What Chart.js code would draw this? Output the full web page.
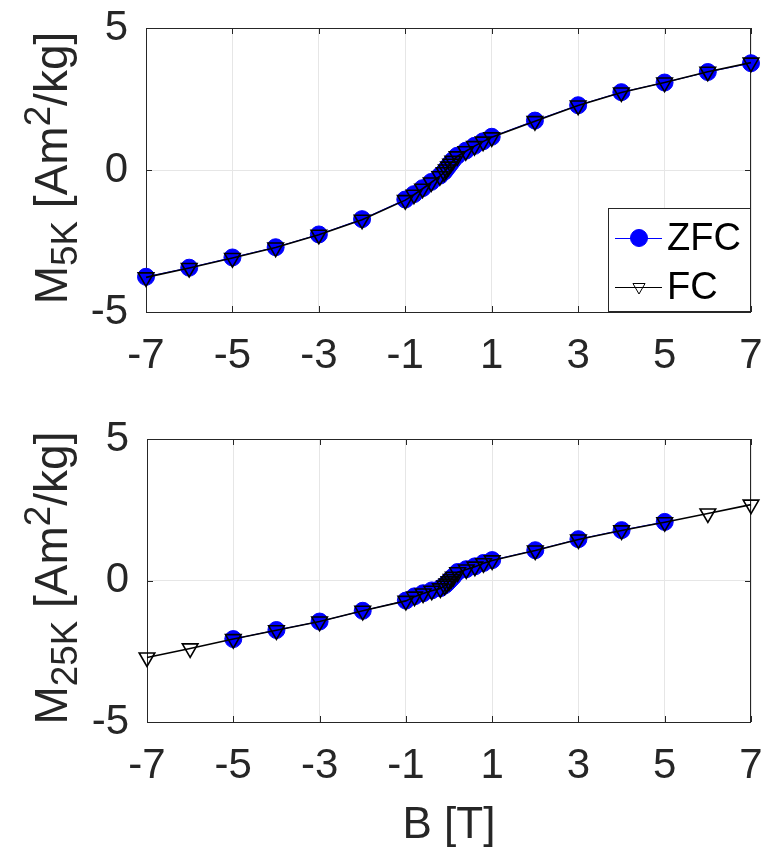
<!DOCTYPE html>
<html>
<head>
<meta charset="utf-8">
<script src="https://cdn.jsdelivr.net/npm/chart.js@4.4.0/dist/chart.umd.min.js"></script>
<style>
  body { margin: 0; background: #fff; width: 765px; height: 852px; position: relative; overflow: hidden;
         font-family: "Liberation Sans", Arial, sans-serif; }
  .panel { position: absolute; left: 0; width: 765px; }
  .ylab { position: absolute; white-space: nowrap; font-size: 46px; color: #262626; line-height: 1;
          transform: translate(-50%, -50%) rotate(-90deg); }
  .ylab sub, .ylab sup { font-size: 0.8em; }
</style>
</head>
<body>
<div class="panel" style="top:0;height:426px"><canvas id="chart5K"></canvas></div>
<div class="panel" style="top:400px;height:452px"><canvas id="chart25K"></canvas></div>
<div class="ylab" style="left:52px;top:168px">M<sub>5K</sub> [Am<sup>2</sup>/kg]</div>
<div class="ylab" style="left:52px;top:578px">M<sub>25K</sub> [Am<sup>2</sup>/kg]</div>

<script>
// field values [T]
const fieldB = [-7, -6, -5, -4, -3, -2, -1, -0.8, -0.6, -0.4, -0.2, -0.1, -0.05, 0,
  0.05, 0.1, 0.2, 0.4, 0.6, 0.8, 1, 2, 3, 4, 5, 6, 7];
const fieldB25Zfc = [-5, -4, -3, -2, -1, -0.8, -0.6, -0.4, -0.2, -0.1, -0.05, 0,
  0.05, 0.1, 0.2, 0.4, 0.6, 0.8, 1, 2, 3, 4, 5];

// magnetisation at 5 K [Am^2/kg]
const zfc5K = [-3.76, -3.44, -3.08, -2.72, -2.27, -1.73, -1.04, -0.85, -0.64, -0.42, -0.2, -0.06, 0.04, 0.14,
  0.24, 0.34, 0.5, 0.68, 0.85, 1.01, 1.17, 1.74, 2.28, 2.74, 3.08, 3.45, 3.76];
const fc5K = [-3.78, -3.45, -3.1, -2.73, -2.28, -1.75, -1.06, -0.87, -0.66, -0.44, -0.22, -0.08, 0.02, 0.12,
  0.22, 0.32, 0.48, 0.66, 0.84, 1.0, 1.15, 1.72, 2.27, 2.73, 3.08, 3.46, 3.78];

// magnetisation at 25 K [Am^2/kg]
const zfc25K = [-2.07, -1.75, -1.45, -1.07, -0.71, -0.56, -0.45, -0.35, -0.27, -0.17, -0.1, -0.02,
  0.06, 0.14, 0.3, 0.4, 0.5, 0.62, 0.72, 1.07, 1.46, 1.78, 2.07];
const fc25K = [-2.72, -2.4, -2.07, -1.76, -1.45, -1.07, -0.72, -0.57, -0.46, -0.36, -0.28, -0.18, -0.11, -0.03,
  0.05, 0.13, 0.29, 0.39, 0.49, 0.61, 0.71, 1.06, 1.45, 1.77, 2.06, 2.37, 2.68];

const xTicks = [-7, -5, -3, -1, 1, 3, 5, 7];
const yTicks = [-5, 0, 5];
const seriesNames = ['ZFC', 'FC'];

const axisColor = '#262626';
const fontFamily = '"Liberation Sans", Arial, sans-serif';

// axes box and inward tick marks, drawn under the markers
const boxPlugin = {
  id: 'box',
  beforeDatasetsDraw(chart) {
    const { ctx, chartArea: a, scales } = chart;
    ctx.save();
    ctx.strokeStyle = axisColor;
    ctx.lineWidth = 1;
    ctx.strokeRect(Math.round(a.left) + 0.5, Math.round(a.top) + 0.5,
      Math.round(a.right - a.left) - 1, Math.round(a.bottom - a.top));
    ctx.beginPath();
    scales.x.ticks.forEach(t => {
      const x = Math.round(scales.x.getPixelForValue(t.value)) + 0.5;
      ctx.moveTo(x, a.bottom); ctx.lineTo(x, a.bottom - 6);
      ctx.moveTo(x, a.top); ctx.lineTo(x, a.top + 6);
    });
    scales.y.ticks.forEach(t => {
      const y = Math.round(scales.y.getPixelForValue(t.value)) + 0.5;
      ctx.moveTo(a.left, y); ctx.lineTo(a.left + 6, y);
      ctx.moveTo(a.right, y); ctx.lineTo(a.right - 6, y);
    });
    ctx.stroke();
    ctx.restore();
  }
};

// legend box in the lower right corner of the top panel
const legendPlugin = {
  id: 'boxLegend',
  afterDraw(chart, args, opts) {
    if (!opts.show) return;
    const ctx = chart.ctx;
    const a = chart.chartArea;
    const left = 608, right = a.right - 1, top = 208, bottom = a.bottom - 1;
    ctx.save();
    ctx.fillStyle = '#fff';
    ctx.fillRect(left, top, right - left, bottom - top);
    ctx.strokeStyle = axisColor;
    ctx.lineWidth = 1;
    ctx.strokeRect(left + 0.5, top + 0.5, right - left, bottom - top);
    const rows = [238, 287];
    chart.data.datasets.slice().sort((p, q) => seriesNames.indexOf(p.label) - seriesNames.indexOf(q.label))
      .forEach((ds, i) => {
        const y = rows[i];
        ctx.strokeStyle = ds.borderColor;
        ctx.lineWidth = 1;
        ctx.beginPath();
        ctx.moveTo(615, y + 0.5); ctx.lineTo(662, y + 0.5);
        ctx.stroke();
        ctx.fillStyle = ds.pointBackgroundColor;
        ctx.strokeStyle = ds.pointBorderColor;
        ctx.lineWidth = 1;
        Chart.helpers.drawPoint(ctx, {
          pointStyle: ds.pointStyle,
          rotation: ds.pointRotation,
          radius: i === 0 ? ds.pointRadius : 7,
          borderWidth: 1
        }, 639, y);
        ctx.fillStyle = '#000';
        ctx.font = '38px ' + fontFamily;
        ctx.textBaseline = 'middle';
        ctx.fillText(ds.label, 667, y + 2);
      });
    ctx.restore();
  }
};

function makeDatasets(bZfc, mZfc, bFc, mFc) {
  return [{
    label: 'ZFC',
    data: bZfc.map((b, i) => ({ x: b, y: mZfc[i] })),
    borderColor: '#0000ff',
    borderWidth: 1,
    pointStyle: 'circle',
    pointRadius: 8.5,
    pointBackgroundColor: '#0000ff',
    pointBorderColor: '#0000ff',
    pointBorderWidth: 1,
    order: 1,
    clip: false
  }, {
    label: 'FC',
    data: bFc.map((b, i) => ({ x: b, y: mFc[i] })),
    borderColor: '#000000',
    borderWidth: 1.6,
    pointStyle: 'triangle',
    pointRotation: 180,
    pointRadius: 9,
    pointBackgroundColor: 'rgba(0,0,0,0)',
    pointBorderColor: '#000000',
    pointBorderWidth: 1.6,
    order: 0,
    clip: false
  }];
}

// drop the extra room Chart.js keeps for overhanging tick labels
function noOverhang(s) {
  s.paddingTop = 0; s.paddingBottom = 0; s.paddingLeft = 0; s.paddingRight = 0;
}

function makeChart(id, datasets, cfg) {
  return new Chart(document.getElementById(id), {
    type: 'line',
    data: { datasets },
    options: {
      responsive: true,
      maintainAspectRatio: false,
      animation: false,
      layout: { padding: { top: cfg.top, right: 14, left: 0, bottom: 0 } },
      plugins: {
        legend: { display: false },
        tooltip: { enabled: false },
        boxLegend: { show: cfg.legend }
      },
      scales: {
        x: {
          type: 'linear',
          min: -7, max: 7,
          afterBuildTicks: s => { s.ticks = xTicks.map(v => ({ value: v })); },
          afterFit: s => { s.height = cfg.xHeight; noOverhang(s); },
          grid: { color: '#e6e6e6', drawTicks: false },
          border: { display: false },
          ticks: { color: axisColor, padding: 19, font: { size: 42, family: fontFamily } },
          title: {
            display: cfg.xTitle,
            text: 'B [T]',
            color: axisColor,
            padding: 0,
            font: { size: 44, family: fontFamily }
          }
        },
        y: {
          type: 'linear',
          min: -5, max: 5,
          afterBuildTicks: s => { s.ticks = yTicks.map(v => ({ value: v })); },
          afterFit: s => { s.width = cfg.yWidth; noOverhang(s); },
          grid: { color: '#e6e6e6', drawTicks: false },
          border: { display: false },
          ticks: { color: axisColor, padding: 18, font: { size: 42, family: fontFamily } }
        }
      }
    },
    plugins: [boxPlugin, legendPlugin]
  });
}

makeChart('chart5K', makeDatasets(fieldB, zfc5K, fieldB, fc5K),
  { top: 28, xHeight: 114, yWidth: 146, legend: true, xTitle: false });
makeChart('chart25K', makeDatasets(fieldB25Zfc, zfc25K, fieldB, fc25K),
  { top: 39, xHeight: 130, yWidth: 147, legend: false, xTitle: true });
</script>
</body>
</html>
